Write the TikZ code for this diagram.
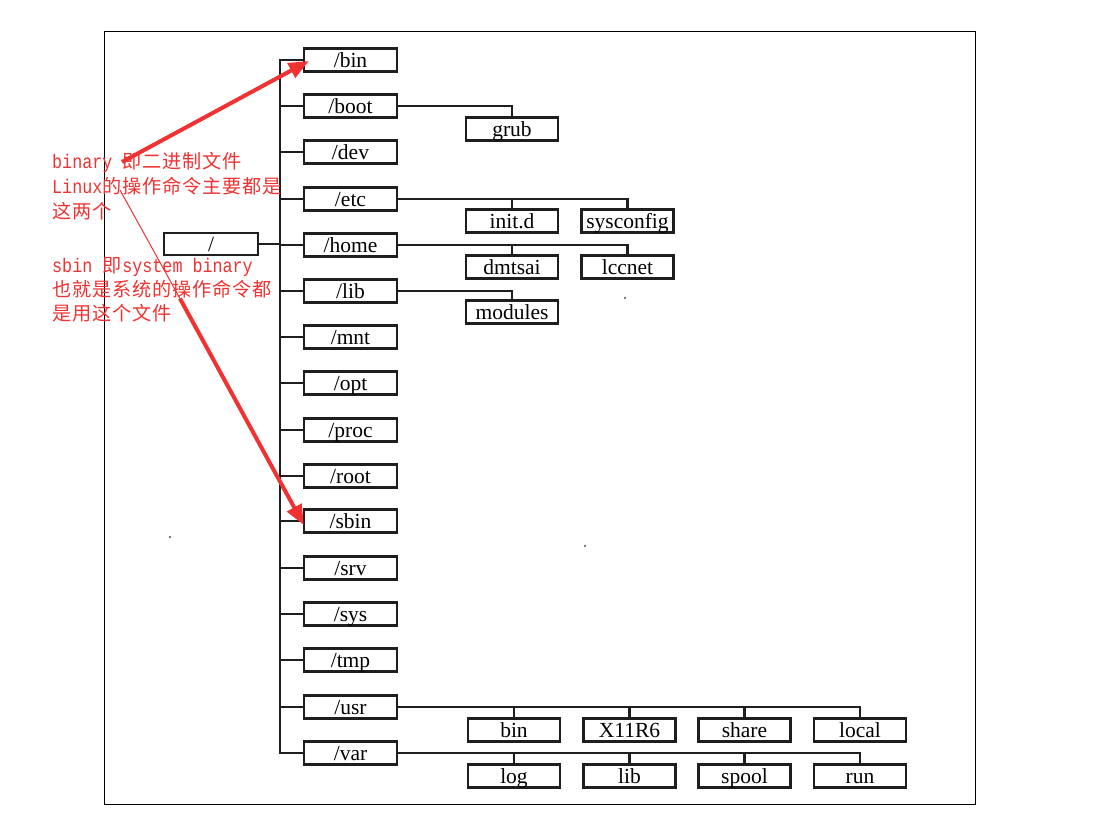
\documentclass[tikz,border=0pt]{standalone}
\usepackage{fontspec}
\setmainfont{Liberation Serif}
\setmonofont[FakeStretch=0.85,Scale=1.18]{Liberation Mono}
\newfontfamily\cjk[Scale=1.15]{Noto Sans CJK SC}
\usetikzlibrary{arrows.meta,calc}
\definecolor{notered}{RGB}{240,50,50}
\definecolor{boxline}{RGB}{30,30,30}
\tikzset{
  dirbox/.style={draw=boxline, line width=2.4pt, minimum width=93pt, minimum height=23pt,
    inner sep=0pt, text height=14pt, text depth=0pt, font=\fontsize{21.5}{22}\selectfont},
  link/.style={draw=boxline, line width=2.2pt},
  notetext/.style={text=notered, inner sep=0pt, anchor=base west, font=\fontsize{16.67}{25}\selectfont},
  bigarrow/.style={draw=notered, fill=notered, line width=4pt, -{Triangle[length=20pt,width=16pt]}},
  thinred/.style={draw=notered, line width=1pt},
}
% CJK text with the reference's 20pt advance per character
\newcommand{\zh}[1]{{\cjk\addfontfeature{LetterSpace=4.3}#1}}
\begin{document}
\begin{tikzpicture}[x=1pt,y=-1pt]
\useasboundingbox (0,0) rectangle (1094,833);
\draw[line width=1pt] (104,31) rectangle (975,804);

% root
\node[dirbox, minimum width=94pt, minimum height=22pt] (root) at (211,244) {/};

% first level
\node[dirbox] (bin)  at (350.5,60)  {/bin};
\node[dirbox] (boot) at (350.5,106) {/boot};
\node[dirbox] (dev)  at (350.5,152) {/dev};
\node[dirbox] (etc)  at (350.5,199) {/etc};
\node[dirbox] (home) at (350.5,245) {/home};
\node[dirbox] (lib)  at (350.5,291) {/lib};
\node[dirbox] (mnt)  at (350.5,337) {/mnt};
\node[dirbox] (opt)  at (350.5,383) {/opt};
\node[dirbox] (proc) at (350.5,430) {/proc};
\node[dirbox] (rootd) at (350.5,476) {/root};
\node[dirbox] (sbin) at (350.5,521) {/sbin};
\node[dirbox] (srv)  at (350.5,568) {/srv};
\node[dirbox] (sys)  at (350.5,614) {/sys};
\node[dirbox] (tmp)  at (350.5,660) {/tmp};
\node[dirbox] (usr)  at (350.5,707) {/usr};
\node[dirbox] (var)  at (350.5,753) {/var};

% second level
\node[dirbox, minimum width=92pt] (grub)      at (512,129)   {grub};
\node[dirbox, minimum width=92pt] (initd)     at (512,221)   {init.d};
\node[dirbox, minimum width=92pt] (sysconfig) at (627.5,221) {sysconfig};
\node[dirbox, minimum width=92pt] (dmtsai)    at (512,267)   {dmtsai};
\node[dirbox, minimum width=92pt] (lccnet)    at (627.5,267) {lccnet};
\node[dirbox, minimum width=92pt] (modules)   at (512,312)   {modules};

\node[dirbox, minimum width=92pt] (ubin)  at (514,730)   {bin};
\node[dirbox, minimum width=92pt] (x11)   at (629.5,730) {X11R6};
\node[dirbox, minimum width=92pt] (share) at (744.5,730) {share};
\node[dirbox, minimum width=92pt] (local) at (860,730)   {local};
\node[dirbox, minimum width=92pt] (log)   at (514,776)   {log};
\node[dirbox, minimum width=92pt] (vlib)  at (629.5,776) {lib};
\node[dirbox, minimum width=92pt] (spool) at (744.5,776) {spool};
\node[dirbox, minimum width=92pt] (run)   at (860,776)   {run};

% trunk
\coordinate (trunktop) at ($(bin.west)+(-22.5,0)$);
\draw[link] (bin.west) -- (trunktop) |- (var.west);
\foreach \n in {boot,dev,etc,home,lib,mnt,opt,proc,rootd,sbin,srv,sys,tmp,usr}
  \draw[link] (\n.west) -- (\n.west -| trunktop);
\draw[link] (root.east) -- (root.east -| trunktop);

% second-level connectors
\draw[link] (boot.east) -| (grub.north);
\draw[link] (etc.east) -| (sysconfig.north);
\draw[link] (initd.north) -- (initd.north |- etc.east);
\draw[link] (home.east) -| (lccnet.north);
\draw[link] (dmtsai.north) -- (dmtsai.north |- home.east);
\draw[link] (lib.east) -| (modules.north);
\draw[link] (usr.east) -| (local.north);
\foreach \n in {ubin,x11,share} \draw[link] (\n.north) -- (\n.north |- usr.east);
\draw[link] (var.east) -| (run.north);
\foreach \n in {log,vlib,spool} \draw[link] (\n.north) -- (\n.north |- var.east);

% specks
\fill[black!70] (625,298) circle (1.2);
\fill[black!70] (585,546) circle (1.2);
\fill[black!70] (170,537) circle (1.2);

% notes
\node[notetext] (n1) at (52,168) {\texttt{binary }\zh{即二进制文件}};
\node[notetext] (n2) at (52,193) {\texttt{Linux}\zh{的操作命令主要都是}};
\node[notetext] (n3) at (52,218) {\zh{这两个}};
\node[notetext] (n4) at (52,272) {\texttt{sbin }\zh{即}\texttt{system binary}};
\node[notetext] (n5) at (52,296) {\zh{也就是系统的操作命令都}};
\node[notetext] (n6) at (52,320) {\zh{是用这个文件}};

% arrows
\coordinate (a1s) at (122,162);
\coordinate (a1e) at ($(bin.west)+(6,1)$);
\draw[bigarrow] (a1s) -- (a1e);
\coordinate (a2s) at (120,190);
\coordinate (a2m) at (180,298.6);
\coordinate (a2e) at ($(sbin.west)+(1,4)$);
\draw[thinred] (a2s) -- (a2m);
\draw[bigarrow] (a2m) -- (a2e);
\end{tikzpicture}
\end{document}
